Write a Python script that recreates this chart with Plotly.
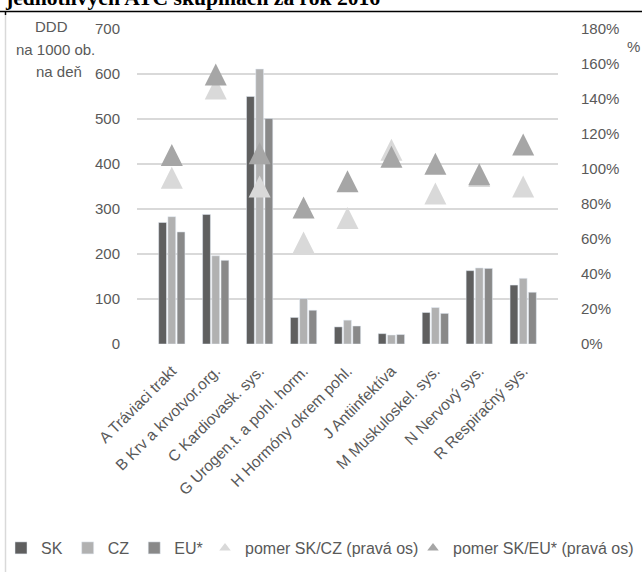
import plotly.graph_objects as go

# ATC groups and consumption (DDD per 1000 inhabitants per day)
categories = [
    "A Tráviaci trakt", "B Krv a krvotvor.org.", "C Kardiovask. sys.",
    "G Urogen.t. a pohl. horm.", "H Hormóny okrem pohl.", "J Antiinfektíva",
    "M Muskuloskel. sys.", "N Nervový sys.", "R Respiračný sys.",
]
sk = [270, 288, 550, 59, 38, 23, 70, 163, 131]
cz = [283, 196, 611, 101, 53, 20, 81, 169, 146]
eu = [249, 186, 501, 75, 40, 21, 68, 168, 115]

# ratios in percent (right axis)
ratio_sk_cz = [95, 146, 90, 58, 72, 111, 86, 96, 90]
ratio_sk_eu = [108, 154, 109, 78, 93, 107, 103, 97, 114]

left_ticks = [0, 100, 200, 300, 400, 500, 600, 700]
right_ticks = [0, 20, 40, 60, 80, 100, 120, 140, 160, 180]

FONT = "Liberation Sans, Arial, sans-serif"
GREY = "#595959"
C_SK, C_CZ, C_EU = "#5f5f5f", "#b1b1b1", "#898989"
C_R_CZ, C_R_EU = "#d9d9d9", "#a6a6a6"

W, H = 642, 572
L, R, T, B = 137, 84, 29, 228
PW, PH = W - L - R, H - T - B


def px_x(px):
    return (px - L) / PW


def px_y(py):
    return (H - B - py) / PH


fig = go.Figure()
fig.add_trace(go.Bar(name="SK", x=categories, y=sk, marker_color=C_SK))
fig.add_trace(go.Bar(name="CZ", x=categories, y=cz, marker_color=C_CZ))
fig.add_trace(go.Bar(name="EU*", x=categories, y=eu, marker_color=C_EU))

# upright triangles centred on the value: a flipped arrow pulled back by half its size
tri = dict(symbol="arrow-down", angle=180, standoff=11, size=22)
fig.add_trace(go.Scatter(name="pomer SK/CZ (pravá os)", x=categories, y=ratio_sk_cz,
                         mode="markers", yaxis="y2", showlegend=False,
                         marker=dict(color=C_R_CZ, **tri)))
fig.add_trace(go.Scatter(name="pomer SK/EU* (pravá os)", x=categories, y=ratio_sk_eu,
                         mode="markers", yaxis="y2", showlegend=False,
                         marker=dict(color=C_R_EU, **tri)))
# compact legend keys for the ratio series, each in its own legend box
for name, col, leg in [("pomer SK/CZ (pravá os)", C_R_CZ, "legend2"),
                       ("pomer SK/EU* (pravá os)", C_R_EU, "legend3")]:
    fig.add_trace(go.Scatter(name=name, x=[None], y=[None], mode="markers",
                             yaxis="y2", legend=leg,
                             marker=dict(symbol="triangle-up", size=10, color=col)))

leg_common = dict(orientation="h", xanchor="left", yanchor="middle", y=px_y(548),
                  font=dict(size=16, color=GREY), itemclick=False,
                  traceorder="normal", bgcolor="rgba(0,0,0,0)")

fig.update_layout(
    width=W, height=H,
    margin=dict(l=L, r=R, t=T, b=B, pad=0, autoexpand=False),
    paper_bgcolor="white", plot_bgcolor="white",
    font=dict(family=FONT, size=14, color=GREY),
    barmode="group", bargap=0.37, bargroupgap=0.15,
    showlegend=True,
    legend=dict(x=px_x(1), **leg_common),
    legend2=dict(x=px_x(205), **leg_common),
    legend3=dict(x=px_x(413), **leg_common),
    xaxis=dict(tickangle=-45, showgrid=False, showline=False, ticks="",
               automargin=False, ticklabelstandoff=14,
               tickfont=dict(size=15.5, color=GREY)),
    yaxis=dict(range=[0, 700], tickvals=left_ticks, showgrid=True,
               gridcolor="#d9d9d9", gridwidth=1.5, zeroline=False, showline=False,
               ticks="", automargin=False, ticklabelstandoff=16,
               tickfont=dict(size=15, color=GREY)),
    yaxis2=dict(range=[0, 180], tickvals=right_ticks,
                ticktext=[f"{v}%" for v in right_ticks], overlaying="y",
                side="right", showgrid=False, zeroline=False, showline=False,
                ticks="", automargin=False, ticklabelstandoff=22,
                tickfont=dict(size=15, color=GREY)),
)

ann = [
    dict(text="<b>jednotlivých ATC skupinách za rok 2016</b>", x=px_x(3), y=px_y(12),
         xanchor="left", yanchor="bottom",
         font=dict(family="Liberation Serif, Times New Roman, serif", size=21.6, color="black")),
    dict(text="DDD", x=px_x(51), y=px_y(26)),
    dict(text="na 1000 ob.", x=px_x(55), y=px_y(49)),
    dict(text="na deň", x=px_x(59), y=px_y(72)),
    dict(text="%", x=px_x(633), y=px_y(46)),
]
for a in ann:
    a.setdefault("xanchor", "center")
    a.setdefault("yanchor", "middle")
    a.setdefault("font", dict(size=15, color=GREY))
    fig.add_annotation(xref="paper", yref="paper", showarrow=False, **a)

# frame lines around the chart block
fig.add_shape(type="line", xref="paper", yref="paper", x0=px_x(0), x1=px_x(W),
              y0=px_y(11.5), y1=px_y(11.5), line=dict(color="black", width=1.6))
fig.add_shape(type="line", xref="paper", yref="paper", x0=px_x(5.5), x1=px_x(5.5),
              y0=px_y(11.5), y1=px_y(15), line=dict(color="black", width=1.5))
fig.add_shape(type="line", xref="paper", yref="paper", x0=px_x(5.5), x1=px_x(5.5),
              y0=px_y(15), y1=px_y(H), line=dict(color="#d9d9d9", width=1.5))

fig.write_html("out.html")
